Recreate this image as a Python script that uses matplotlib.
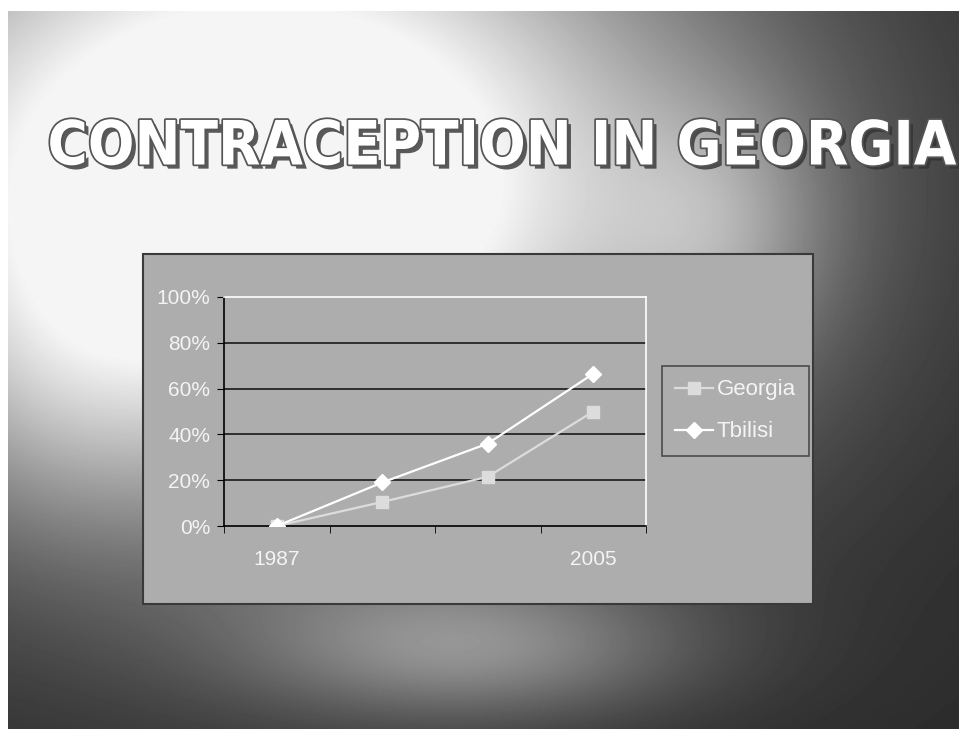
import matplotlib
matplotlib.use("Agg")
import matplotlib.pyplot as plt
import matplotlib.patheffects as pe
from matplotlib.patches import Rectangle
from matplotlib.ticker import PercentFormatter, FixedLocator
import numpy as np

# data
years = ["1987", "", "", "2005"]
georgia = [0.0, 0.105, 0.215, 0.50]
tbilisi = [0.0, 0.19, 0.36, 0.665]
title = "CONTRACEPTION IN GEORGIA"

W, H = 959, 729
narrow = ["Liberation Sans Narrow", "Liberation Sans", "DejaVu Sans"]

fig = plt.figure(figsize=(W / 100, H / 100), dpi=100)

# cloudy slide background
bg = fig.add_axes([0, 0, 1, 1], zorder=0)
yy, xx = np.mgrid[0:H, 0:W].astype(float)


def blob(cx, cy, sx, sy, a):
    return a * np.exp(-(((xx - cx) / sx) ** 2 + ((yy - cy) / sy) ** 2))


img = 0.17 + blob(260, 180, 450, 330, 1.05) + blob(470, 650, 220, 70, 0.3) \
    + blob(720, 230, 110, 130, 0.2) + blob(60, 380, 120, 160, 0.1)
img = np.clip(img, 0, 0.96)
img[:11, :] = 1.0
img[:, :8] = 1.0
bg.imshow(img, cmap="gray", vmin=0, vmax=1, aspect="auto", interpolation="bilinear")
bg.set_axis_off()

fig.text(0.523, 0.797, title, ha="center", va="center", fontsize=44,
         fontweight="bold", fontstretch="condensed", color="white", family=["DejaVu Sans"],
         path_effects=[pe.withSimplePatchShadow(offset=(3, -3), shadow_rgbFace="#333333", alpha=0.8),
                       pe.Stroke(linewidth=2.5, foreground="#555555"), pe.Normal()])

# chart panel
panel = Rectangle((143 / W, 1 - 604 / H), 670 / W, 350 / H, transform=fig.transFigure,
                  facecolor="#adadad", edgecolor="#3a3a3a", linewidth=1.5, zorder=1)
fig.add_artist(panel)

ax = fig.add_axes([224 / W, 1 - 526 / H, 422 / W, 229 / H], zorder=2)
ax.set_facecolor("#adadad")
x = np.arange(len(years))
ax.plot(x, georgia, color="#dcdcdc", lw=1.6, marker="s", ms=9, mec="#dcdcdc", label="Georgia", zorder=3)
ax.plot(x, tbilisi, color="white", lw=1.6, marker="D", ms=8, mec="white", label="Tbilisi", zorder=4)

ax.set_xlim(-0.5, len(years) - 0.5)
ax.set_ylim(0, 1)
ax.set_yticks(np.arange(0, 1.01, 0.2))
ax.yaxis.set_major_formatter(PercentFormatter(1.0, decimals=0))
ax.set_xticks(x)
ax.set_xticklabels(years)
ax.xaxis.set_minor_locator(FixedLocator(np.arange(-0.5, len(years), 1.0)))
ax.tick_params(axis="x", which="major", length=0, pad=17)
ax.tick_params(axis="x", which="minor", length=5, direction="out", color="black")
ax.tick_params(axis="y", length=5, direction="out", color="black", pad=5)
for lab in ax.get_xticklabels() + ax.get_yticklabels():
    lab.set_family(narrow)
    lab.set_fontsize(15)
    lab.set_color("#f4f4f4")

for v in [0.2, 0.4, 0.6, 0.8]:
    ax.axhline(v, color="#1a1a1a", lw=1.2, zorder=1)
ax.spines["left"].set_color("black")
ax.spines["bottom"].set_color("black")
ax.spines["top"].set_color("white")
ax.spines["right"].set_color("white")
for s in ax.spines.values():
    s.set_linewidth(1.2)

leg = fig.legend(loc="upper left", bbox_to_anchor=(662 / W, 1 - 366 / H), borderaxespad=0,
                 frameon=True, fancybox=False, prop={"family": narrow, "size": 16},
                 handlelength=1.7, labelspacing=0.95, borderpad=0.6, handletextpad=0.15)
leg.set_zorder(3)
leg.get_frame().set_facecolor("#adadad")
leg.get_frame().set_edgecolor("#333333")
leg.get_frame().set_linewidth(1.2)
for t in leg.get_texts():
    t.set_color("#f4f4f4")

fig.savefig("out.png", dpi=100)
